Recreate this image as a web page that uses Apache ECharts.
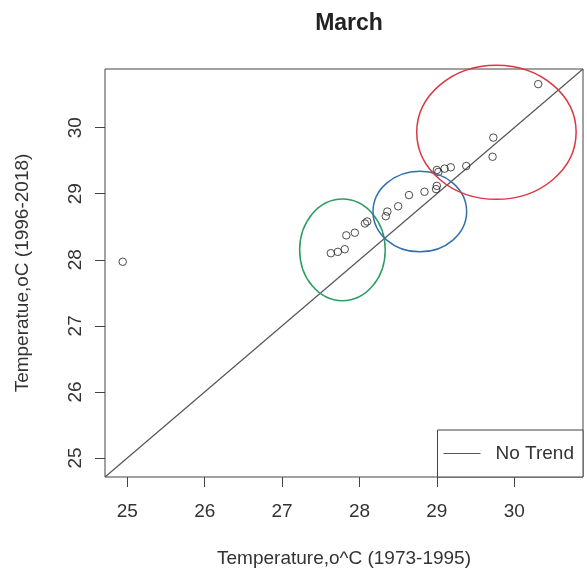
<!DOCTYPE html>
<html>
<head>
<meta charset="utf-8">
<script src="https://cdn.jsdelivr.net/npm/echarts@6/dist/echarts.min.js"></script>
<style>
  html, body { margin: 0; padding: 0; background: #fff; }
  #chart { width: 587px; height: 575px; }
</style>
</head>
<body>
<div id="chart"></div>
<script>
// Mean March temperature per station: earlier period (x) vs later period (y)
const tempEarly = [24.94, 27.63, 27.72, 27.81, 27.83, 27.94, 28.07, 28.10, 28.34, 28.36, 28.50, 28.64,
                   28.84, 28.99, 29.00, 29.00, 29.02, 29.10, 29.18, 29.38, 29.72, 29.73, 30.31];
const tempLate  = [27.97, 28.10, 28.12, 28.16, 28.37, 28.41, 28.55, 28.58, 28.66, 28.73, 28.81, 28.98,
                   29.03, 29.07, 29.12, 29.36, 29.33, 29.38, 29.40, 29.42, 29.56, 29.85, 30.66];

// Tick values shared by both axes
const tickValues = [25, 26, 27, 28, 29, 30];

// Highlight groups: centre x, centre y, radius x, radius y (in degrees), colour
const groupCx     = [27.78, 28.78, 29.77];
const groupCy     = [28.15, 28.73, 29.93];
const groupRx     = [0.553, 0.605, 1.03];
const groupRy     = [0.77, 0.61, 1.015];
const groupColors = ['#2e9c62', '#336fae', '#dc3640'];

const titleText = 'March';
const xName = 'Temperature,o^C (1973-1995)';
const yName = 'Temperatue,oC (1996-2018)';
const lineName = 'No Trend';

// Common limits for both axes: data range padded by 4% on each side
const allVals = tempEarly.concat(tempLate);
const vMin = Math.min.apply(null, allVals);
const vMax = Math.max.apply(null, allVals);
const pad = (vMax - vMin) * 0.04;
const lo = vMin - pad;
const hi = vMax + pad;

const points = tempEarly.map((x, i) => [x, tempLate[i]]);
const groups = groupCx.map((cx, i) => [cx, groupCy[i], groupRx[i], groupRy[i], i]);

const font = '"Liberation Sans", Arial, sans-serif';
const ink = '#333';

function axisCommon(name, isY) {
  return {
    type: 'value',
    min: lo,
    max: hi,
    name: name,
    nameLocation: 'middle',
    nameGap: isY ? 73 : 72,
    nameTextStyle: { fontFamily: font, fontSize: 19, color: ink },
    axisLine: { show: false },
    axisTick: {
      show: true,
      length: 10,
      customValues: tickValues,
      lineStyle: { color: '#444', width: 1 }
    },
    axisLabel: {
      customValues: tickValues,
      fontFamily: font,
      fontSize: 19,
      color: ink,
      margin: isY ? 20 : 25,
      rotate: isY ? 90 : 0
    },
    splitLine: { show: false }
  };
}

const chart = echarts.init(document.getElementById('chart'), null, { renderer: 'canvas' });

chart.setOption({
  backgroundColor: '#fff',
  animation: false,
  title: {
    text: titleText,
    left: 344,
    top: 7,
    textAlign: 'center',
    textStyle: { fontFamily: font, fontSize: 23, fontWeight: 'bold', color: '#222' }
  },
  grid: {
    left: 105,
    right: 4,
    top: 69,
    bottom: 98,
    show: true,
    borderColor: '#444',
    borderWidth: 1,
    backgroundColor: 'transparent'
  },
  xAxis: axisCommon(xName, false),
  yAxis: axisCommon(yName, true),
  legend: {
    data: [lineName],
    right: 4,
    bottom: 98,
    orient: 'vertical',
    padding: [14, 9, 14, 6],
    borderColor: '#444',
    borderWidth: 1,
    borderRadius: 0,
    backgroundColor: '#fff',
    icon: 'rect',
    itemWidth: 37,
    itemHeight: 1,
    textStyle: { fontFamily: font, fontSize: 19, color: ink, padding: [0, 0, 0, 10] }
  },
  series: [
    {
      name: lineName,
      type: 'line',
      data: [[lo, lo], [hi, hi]],
      symbol: 'none',
      lineStyle: { color: '#555', width: 1.2 },
      itemStyle: { color: '#555' },
      z: 2
    },
    {
      name: 'stations',
      type: 'scatter',
      data: points,
      symbol: 'circle',
      symbolSize: 7.5,
      itemStyle: { color: 'rgba(0,0,0,0)', borderColor: '#222', borderWidth: 1 },
      z: 3
    },
    {
      name: 'groups',
      type: 'custom',
      data: groups,
      clip: false,
      renderItem: function (params, api) {
        const c = api.coord([api.value(0), api.value(1)]);
        const s = api.size([api.value(2), api.value(3)]);
        return {
          type: 'ellipse',
          shape: { cx: c[0], cy: c[1], rx: s[0], ry: s[1] },
          style: { fill: 'none', stroke: groupColors[api.value(4)], lineWidth: 1.5 }
        };
      },
      z: 4
    }
  ]
});
</script>
</body>
</html>
